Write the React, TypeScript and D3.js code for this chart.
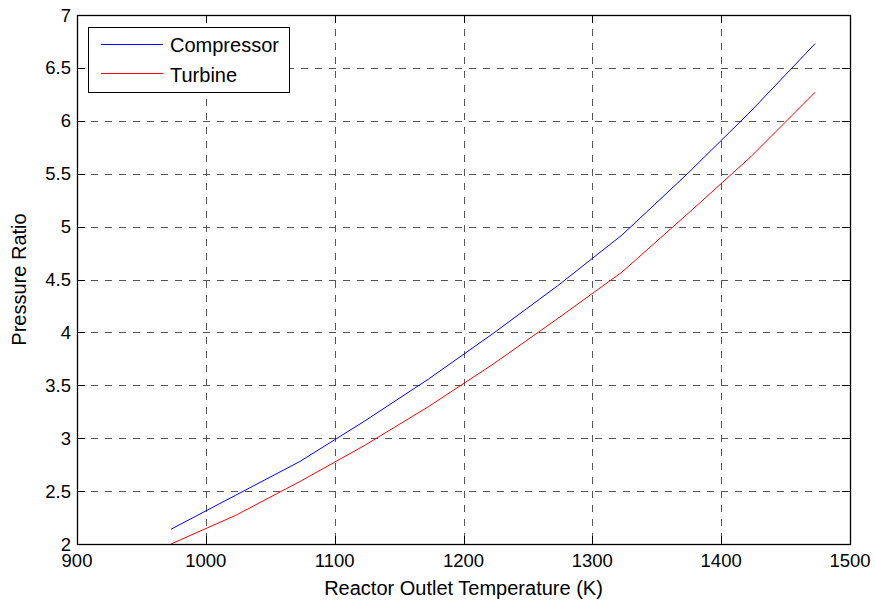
import React from "react";
import * as d3 from "d3";

const temperatures = [973, 1023, 1073, 1123, 1173, 1223, 1273, 1323, 1373, 1423, 1473];
const compressor = [2.14, 2.46, 2.78, 3.16, 3.56, 3.99, 4.44, 4.92, 5.49, 6.09, 6.73];
const turbine = [2.0, 2.27, 2.59, 2.93, 3.3, 3.7, 4.13, 4.57, 5.11, 5.66, 6.27];
const xTicks = [900, 1000, 1100, 1200, 1300, 1400, 1500];
const yTicks = [2, 2.5, 3, 3.5, 4, 4.5, 5, 5.5, 6, 6.5, 7];
const seriesNames = ["Compressor", "Turbine"];
const seriesColors = ["#0000ff", "#ff0000"];

const W = 875, H = 600;
const L = 77, R = 850, T = 15, B = 544;
const FONT = "'Liberation Sans', Arial, Helvetica, sans-serif";

export default function App() {
  const x = d3.scaleLinear().domain([900, 1500]).range([L, R]);
  const y = d3.scaleLinear().domain([2, 7]).range([B, T]);
  const line = d3
    .line<[number, number]>()
    .x((d) => x(d[0]))
    .y((d) => y(d[1]));
  const series = [compressor, turbine].map((vals) =>
    temperatures.map((t, i) => [t, vals[i]] as [number, number])
  );
  const tickLen = 8;
  return (
    <svg
      width={W}
      height={H}
      style={{ position: "absolute", left: 0, top: 0, background: "#fff" }}
      fontFamily={FONT}
    >
      <rect x={0} y={0} width={W} height={H} fill="#fff" />
      {/* grid */}
      <g stroke="#555" strokeWidth={1} strokeDasharray="7,7" shapeRendering="crispEdges">
        {xTicks.slice(1, -1).map((t) => (
          <line key={"gx" + t} x1={Math.round(x(t)) + 0.5} x2={Math.round(x(t)) + 0.5} y1={T} y2={B} />
        ))}
        {yTicks.slice(1, -1).map((t) => (
          <line key={"gy" + t} x1={L} x2={R} y1={Math.round(y(t)) + 0.5} y2={Math.round(y(t)) + 0.5} />
        ))}
      </g>
      {/* ticks */}
      <g stroke="#000" strokeWidth={1} shapeRendering="crispEdges">
        {xTicks.map((t) => (
          <g key={"tx" + t}>
            <line x1={Math.round(x(t)) + 0.5} x2={Math.round(x(t)) + 0.5} y1={B} y2={B - tickLen} />
            <line x1={Math.round(x(t)) + 0.5} x2={Math.round(x(t)) + 0.5} y1={T} y2={T + tickLen} />
          </g>
        ))}
        {yTicks.map((t) => (
          <g key={"ty" + t}>
            <line x1={L} x2={L + tickLen} y1={Math.round(y(t)) + 0.5} y2={Math.round(y(t)) + 0.5} />
            <line x1={R} x2={R - tickLen} y1={Math.round(y(t)) + 0.5} y2={Math.round(y(t)) + 0.5} />
          </g>
        ))}
      </g>
      {/* series */}
      {series.map((s, i) => (
        <path key={seriesNames[i]} d={line(s) || ""} fill="none" stroke={seriesColors[i]} strokeWidth={1} />
      ))}
      {/* axes box */}
      <rect x={L + 0.5} y={T + 0.5} width={R - L} height={B - T} fill="none" stroke="#000" strokeWidth={1.3} />
      {/* tick labels */}
      <g fontSize={18.5} fill="#000">
        {xTicks.map((t) => (
          <text key={"lx" + t} x={x(t)} y={567} textAnchor="middle">
            {t}
          </text>
        ))}
        {yTicks.map((t) => (
          <text key={"ly" + t} x={L - 6} y={y(t) + 6.5} textAnchor="end">
            {t}
          </text>
        ))}
      </g>
      {/* axis labels */}
      <text x={(L + R) / 2} y={595} textAnchor="middle" fontSize={20} fill="#000">
        Reactor Outlet Temperature (K)
      </text>
      <text
        transform={`translate(26, ${(T + B) / 2}) rotate(-90)`}
        textAnchor="middle"
        fontSize={20}
        fill="#000"
      >
        Pressure Ratio
      </text>
      {/* legend */}
      <g>
        <rect x={88.5} y={27.5} width={201} height={65} fill="#fff" stroke="#000" strokeWidth={1} />
        {seriesNames.map((n, i) => (
          <g key={"lg" + n}>
            <line x1={101} x2={163} y1={44.5 + i * 29} y2={44.5 + i * 29} stroke={seriesColors[i]} strokeWidth={1} />
            <text x={170} y={52 + i * 30} fontSize={20} fill="#000">
              {n}
            </text>
          </g>
        ))}
      </g>
    </svg>
  );
}
